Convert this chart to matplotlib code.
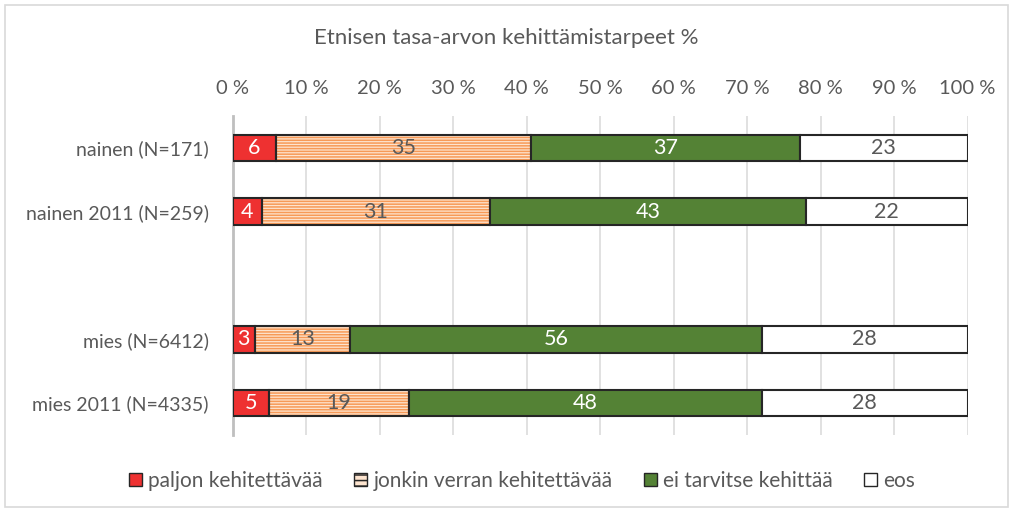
import numpy as np
import matplotlib.pyplot as plt
from matplotlib.patches import Patch, Rectangle

plt.rcParams['font.family'] = ['Lato', 'DejaVu Sans']
plt.rcParams['hatch.linewidth'] = 1.1

# survey groups, top to bottom ('' = empty gap row)
groups = ['nainen (N=171)', 'nainen 2011 (N=259)', '', 'mies (N=6412)', 'mies 2011 (N=4335)']
answers = ['paljon kehitettävää', 'jonkin verran kehitettävää', 'ei tarvitse kehittää', 'eos']

paljon = [6, 4, None, 3, 5]
jonkin = [35, 31, None, 13, 19]
ei_tarvitse = [37, 43, None, 56, 48]
eos = [23, 22, None, 28, 28]

ticks = [0, 10, 20, 30, 40, 50, 60, 70, 80, 90, 100]

grey_text = '#595959'
edge = '#262626'
styles = [
    dict(color='#ee3131', text='white', hatch=None),
    dict(color='#fde4cf', text=grey_text, hatch='------', hcolor='#f79a57'),
    dict(color='#548235', text='white', hatch=None),
    dict(color='white', text=grey_text, hatch=None),
]

fig = plt.figure(figsize=(10.13, 5.11), dpi=100)
ax = fig.add_axes([232.5 / 1013, (511 - 435) / 511, 735 / 1013, 319 / 511])

# chart frame
fig.patches.append(Rectangle((5 / 1013, 4 / 511), 1003 / 1013, 502 / 511, transform=fig.transFigure,
                             fill=False, edgecolor='#d9d9d9', linewidth=1.2))

series = [paljon, jonkin, ei_tarvitse, eos]
ypos = np.arange(len(groups))
bar_h = 0.42

for i, g in enumerate(groups):
    if series[0][i] is None:
        continue
    vals = np.array([s[i] for s in series], dtype=float)
    shares = vals / vals.sum() * 100  # 100 % stacked
    left = 0
    for v, w, st in zip(vals, shares, styles):
        if st['hatch']:
            ax.barh(ypos[i], w, left=left, height=bar_h, color=st['color'],
                    edgecolor=st['hcolor'], hatch=st['hatch'], linewidth=0, zorder=2)
            ax.barh(ypos[i], w, left=left, height=bar_h, fill=False,
                    edgecolor=edge, linewidth=1.5, zorder=3)
        else:
            ax.barh(ypos[i], w, left=left, height=bar_h, color=st['color'],
                    edgecolor=edge, linewidth=1.5, zorder=3)
        ax.text(left + w / 2, ypos[i], f'{int(v)}', ha='center', va='center',
                color=st['text'], fontsize=15.5, zorder=4)
        left += w

ax.set_xlim(0, 100)
ax.set_ylim(len(groups) - 0.5, -0.5)
ax.set_xticks(ticks)
ax.set_xticklabels([f'{t} %' for t in ticks])
ax.xaxis.tick_top()
ax.set_yticks(ypos)
ax.set_yticklabels(groups)
ax.tick_params(axis='both', length=0, colors=grey_text)
ax.tick_params(axis='x', pad=14, labelsize=14.5)
ax.tick_params(axis='y', pad=17, labelsize=14)
ax.grid(axis='x', color='#d9d9d9', linewidth=1.1, zorder=0)
ax.set_axisbelow(True)
for side in ['top', 'right', 'bottom']:
    ax.spines[side].set_visible(False)
ax.spines['left'].set_color('#bfbfbf')
ax.spines['left'].set_linewidth(2)

fig.text(0.5, 1 - 38 / 511, 'Etnisen tasa-arvon kehittämistarpeet %', ha='center', va='center',
         color=grey_text, fontsize=16)

handles = []
for name, st in zip(answers, styles):
    if st['hatch']:
        handles.append(Patch(facecolor=st['color'], edgecolor=edge, hatch='---', label=name))
    else:
        handles.append(Patch(facecolor=st['color'], edgecolor=edge, label=name))
leg = fig.legend(handles=handles, loc='center', bbox_to_anchor=(522 / 1013, 1 - 481 / 511), ncol=4,
                 frameon=False, fontsize=15, handlelength=0.62, handleheight=0.62,
                 handletextpad=0.3, columnspacing=1.5, labelcolor=grey_text)

fig.savefig('out.png', dpi=100)
